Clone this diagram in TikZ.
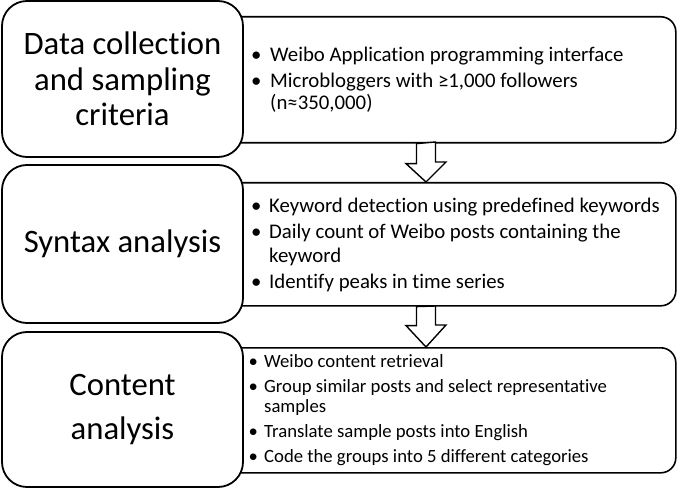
\documentclass[tikz,border=0pt]{standalone}
\usepackage{fontspec}
\setmainfont{Carlito}[Ligatures=NoCommon]
\usetikzlibrary{calc}
\newlength\bulind
\newcommand\itm[1]{\par\hangindent=\bulind\hangafter=1\noindent\hbox to\bulind{\textbullet\hfil}#1}
\newcommand\bulletlist[5]{\vtop{\hsize=#1\fontsize{#2}{#3}\selectfont\setlength\parskip{#4}\raggedright\hyphenpenalty=10000\exhyphenpenalty=10000 #5\par}}
\tikzset{
  bigbox/.style={draw, line width=1.8pt, fill=white, rounded corners=25pt, minimum width=241pt, inner sep=0pt, align=center},
  rbox/.style={draw, line width=1.6pt, fill=white, rounded corners=15pt, anchor=north west, minimum width=460pt, inner sep=0pt},
  rtext/.style={anchor=base west, inner sep=0pt},
  barrow/.style={draw, line width=1.4pt, fill=white, line join=miter}
}
\begin{document}
\begin{tikzpicture}[x=1pt,y=-1pt]
\useasboundingbox (0,0) rectangle (677,489);
% right boxes
\node[rbox, minimum height=126pt] (r1) at (215,16) {};
\node[rbox, minimum height=123pt] (r2) at (215,182) {};
\node[rbox, minimum height=125pt] (r3) at (215,347) {};
% big boxes
\node[bigbox, minimum height=156pt, font=\fontsize{32.7}{35.5}\selectfont] (b1) at (122.5,79) {Data collection\\and sampling\\criteria};
\node[bigbox, minimum height=158pt, font=\fontsize{32.7}{40}\selectfont] (b2) at (122.5,244) {Syntax analysis};
\node[bigbox, minimum height=155pt, font=\fontsize{32.7}{44}\selectfont] (b3) at (122.5,409.5) {Content\\analysis};
% texts
\node[rtext] (t1) at (251,62) {\setlength\bulind{19pt}\bulletlist{415pt}{20.8}{22}{4pt}{%
\itm{Weibo Application programming interface}
\itm{Microbloggers with ≥1,000 followers (n≈350,000)}}};
\node[rtext] (t2) at (251,212) {\setlength\bulind{18pt}\bulletlist{415pt}{20.8}{24}{2pt}{%
\itm{Keyword detection using predefined keywords}
\itm{Daily count of Weibo posts containing the keyword}
\itm{Identify peaks in time series}}};
\node[rtext] (t3) at (248.5,367) {\setlength\bulind{15.5pt}\bulletlist{380pt}{18.7}{20.5}{4.5pt}{%
\itm{Weibo content retrieval}
\itm{Group similar posts and select representative samples}
\itm{Translate sample posts into English}
\itm{Code the groups into 5 different categories}}};
% block arrows
\coordinate (a1t) at (426,0 |- r1.south);
\coordinate (a1b) at (426,0 |- r2.north);
\coordinate (a2t) at (426,0 |- r2.south);
\coordinate (a2b) at (426,0 |- r3.north);
\draw[barrow] ($(a1t)+(-9.5,0)$) -- ++(0,20) -- ++(-10.5,0) -- (a1b) -- ++(20,-20) -- ++(-10.5,0) -- ++(0,-20) -- cycle;
\draw[barrow] ($(a2t)+(-9.5,0)$) -- ++(0,19) -- ++(-10.5,0) -- (a2b) -- ++(20,-22) -- ++(-10.5,0) -- ++(0,-19) -- cycle;
\end{tikzpicture}
\end{document}
